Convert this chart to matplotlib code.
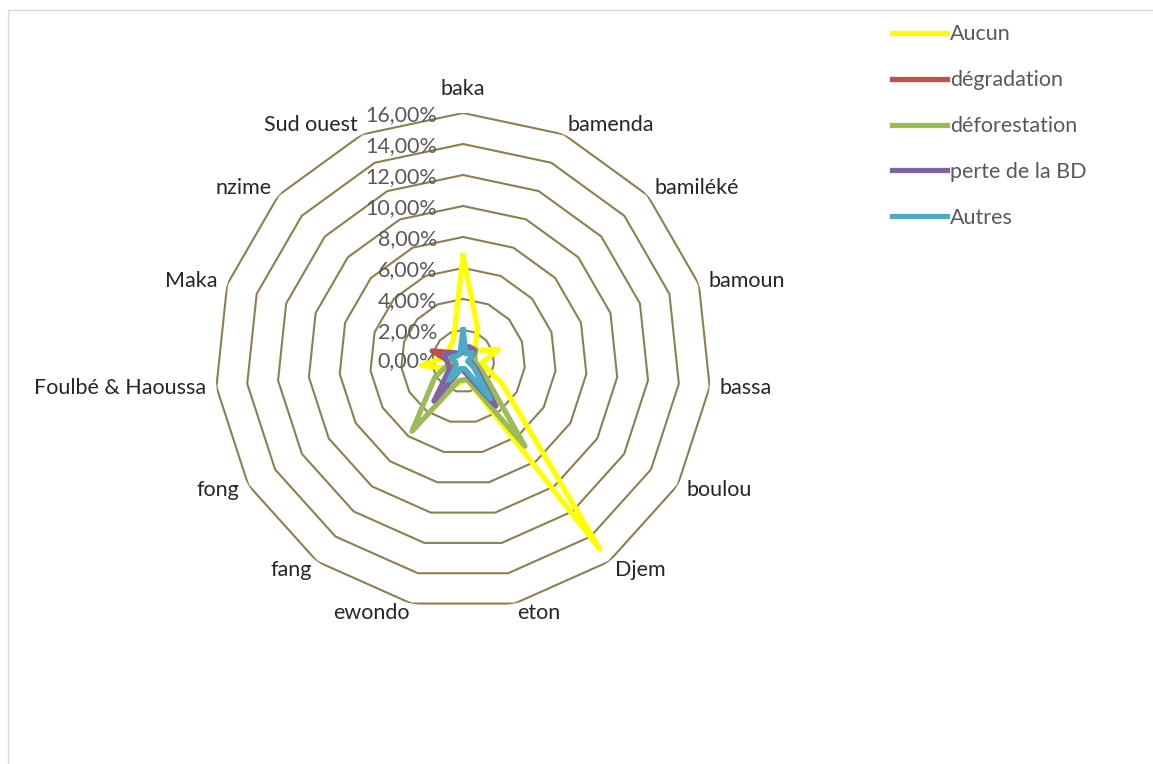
import numpy as np
import matplotlib

matplotlib.use("Agg")
import matplotlib.pyplot as plt
from matplotlib.patches import Rectangle

# categories clockwise from the top
categories = ["baka", "bamenda", "bamiléké", "bamoun", "bassa", "boulou", "Djem",
              "eton", "ewondo", "fang", "fong", "Foulbé & Haoussa", "Maka",
              "nzime", "Sud ouest"]

# values in %
aucun = [6.8, 2.3, 1.0, 2.4, 1.2, 2.9, 15.0, 1.2, 1.5, 1.2, 1.0, 2.7, 1.0, 1.2, 1.5]
degradation = [0.6, 0.6, 0.8, 0.5, 0.5, 0.8, 3.3, 0.6, 0.5, 1.0, 0.8, 0.8, 2.1, 0.8, 0.5]
deforestation = [0.8, 1.0, 1.1, 0.8, 0.8, 1.5, 6.8, 1.2, 1.3, 5.6, 2.1, 0.8, 0.8, 0.5, 0.5]
perte_bd = [0.8, 1.0, 1.0, 0.5, 0.5, 1.0, 3.6, 0.8, 0.5, 3.2, 1.0, 1.0, 1.3, 0.8, 0.5]
autres = [2.0, 0.5, 0.8, 0.5, 0.3, 0.8, 3.0, 0.5, 0.5, 1.5, 0.5, 0.5, 0.8, 0.5, 0.5]

series = [
    ("Aucun", aucun, "#FFFF00"),
    ("dégradation", degradation, "#C0504D"),
    ("déforestation", deforestation, "#9BBB59"),
    ("perte de la BD", perte_bd, "#8064A2"),
    ("Autres", autres, "#4BACC6"),
]
levels = [2, 4, 6, 8, 10, 12, 14, 16]
level_labels = ["2,00%", "4,00%", "6,00%", "8,00%", "10,00%", "12,00%", "14,00%", "16,00%"]

FONT = "Lato"
FS = 15.5
GRID = "#8C8050"

fig = plt.figure(figsize=(11.53, 7.64), dpi=100)
fig.patch.set_facecolor("white")
fig.add_artist(Rectangle((8 / 1153, -0.1), 1.2, 1.1 - 10 / 764,
                         transform=fig.transFigure, fill=False,
                         edgecolor="#D9D9D9", linewidth=1.0))

ax = fig.add_axes([0.1865, 0.2029, 0.4302, 0.6492], projection="polar")
ax.set_theta_zero_location("N")
ax.set_theta_direction(-1)
ax.set_ylim(0, 16)
ax.set_axis_off()

n = len(categories)
angles = np.arange(n) * 2 * np.pi / n
closed = np.append(angles, angles[0])

for lv in levels:
    ax.plot(closed, [lv] * (n + 1), color=GRID, linewidth=1.5, zorder=1)

# percentage labels along the top axis
ax.annotate("0,00%", (0, 0), xytext=(-26, 0), textcoords="offset pixels",
            ha="right", va="center", fontsize=FS, color="#595959", family=FONT,
            zorder=2)
for lv, lab in zip(levels, level_labels):
    ax.annotate(lab, (0, lv), xytext=(-26, -2), textcoords="offset pixels",
                ha="right", va="center", fontsize=FS, color="#595959",
                family=FONT, zorder=2)

for name, vals, color in series:
    ax.plot(closed, list(vals) + [vals[0]], color=color, linewidth=3.8,
            label=name, zorder=3, solid_joinstyle="round")

# category labels
for ang, cat in zip(angles, categories):
    sx, cy = np.sin(ang), np.cos(ang)
    if abs(sx) < 0.1:
        ha = "center"
    elif sx > 0:
        ha = "left"
    else:
        ha = "right"
    va = "center"
    off = 10
    if cy > 0.95:
        va = "bottom"
        off = 14
    ax.annotate(cat, (ang, 16), xytext=(off * sx, off * cy),
                textcoords="offset pixels", ha=ha, va=va, fontsize=FS,
                color="#262626", family=FONT)

handles, labels = ax.get_legend_handles_labels()
leg = fig.legend(handles, labels, loc="upper left",
                 bbox_to_anchor=(873 / 1153, 1 - 5 / 764), frameon=False,
                 handlelength=2.55, handletextpad=0.12, labelspacing=1.2,
                 prop={"family": FONT, "size": FS})
for t in leg.get_texts():
    t.set_color("#595959")

fig.savefig("out.png", dpi=100, facecolor="white")
